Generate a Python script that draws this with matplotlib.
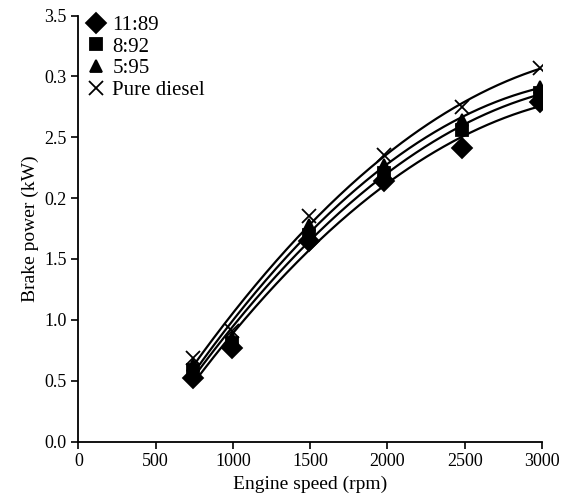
import numpy as np
import matplotlib
matplotlib.use('Agg')
import matplotlib.pyplot as plt

plt.rcParams['font.family'] = ['Liberation Serif', 'DejaVu Serif']

# engine speed (rpm)
speed = [740, 995, 1490, 1980, 2480, 2985]

# brake power (kW) for each blend
bp_11_89 = [0.52, 0.77, 1.65, 2.14, 2.41, 2.79]
bp_8_92 = [0.59, 0.81, 1.70, 2.21, 2.56, 2.86]
bp_5_95 = [0.63, 0.85, 1.78, 2.27, 2.64, 2.91]
bp_diesel = [0.69, 0.91, 1.85, 2.35, 2.75, 3.07]

series = [
    ('11:89', bp_11_89, 'D', 10),
    ('8:92', bp_8_92, 's', 8),
    ('5:95', bp_5_95, '^', 8),
    ('Pure diesel', bp_diesel, 'x', 10),
]

ytick_vals = [0.0, 0.5, 1.0, 1.5, 2.0, 2.5, 3.0, 3.5]
ytick_labels = ['0.0', '0.5', '1.0', '1.5', '0.2', '2.5', '0.3', '3.5']

fig = plt.figure(figsize=(5.64, 5.0), dpi=100)
ax = fig.add_axes([0.139, 0.117, 0.822, 0.852])

x = np.array(speed)
xs = np.linspace(x.min(), x.max(), 200)
for name, vals, mk, ms in series:
    # 2nd order trendline
    c = np.polyfit(x, vals, 2)
    ax.plot(xs, np.polyval(c, xs), color='black', lw=1.6)
    ax.plot(x, vals, linestyle='none', marker=mk, color='black',
            markersize=ms, mew=1.3, label=name)

ax.set_xlim(0, 3000)
ax.set_ylim(0, 3.5)
ax.set_xticks([0, 500, 1000, 1500, 2000, 2500, 3000])
ax.set_yticks(ytick_vals)
ax.set_yticklabels(ytick_labels)
ax.tick_params(direction='out', length=5, width=1.2, labelsize=13, colors='black')
for s in ['top', 'right']:
    ax.spines[s].set_visible(False)
for s in ['left', 'bottom']:
    ax.spines[s].set_linewidth(1.3)

ax.set_xlabel('Engine speed (rpm)', fontsize=14)
ax.set_ylabel('Brake power (kW)', fontsize=14)

ax.legend(loc='upper left', bbox_to_anchor=(-0.003, 1.02), frameon=False,
          fontsize=15, handlelength=1.0, handletextpad=0.3, labelspacing=0.1,
          borderaxespad=0.0)

fig.savefig('out.png', dpi=100)
